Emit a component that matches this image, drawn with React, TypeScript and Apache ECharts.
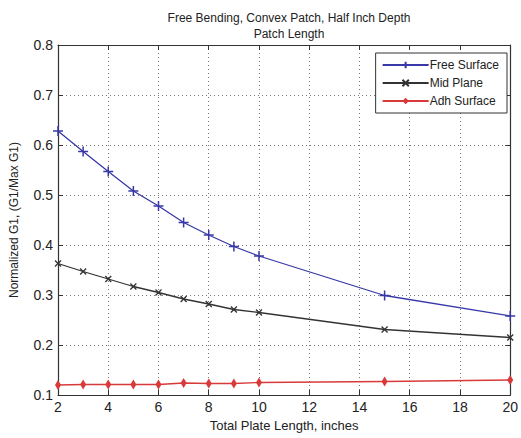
import React, { useEffect, useRef } from "react";
import * as echarts from "echarts";

const xValues = [2, 3, 4, 5, 6, 7, 8, 9, 10, 15, 20];
const freeSurface = [0.628, 0.587, 0.547, 0.508, 0.478, 0.445, 0.42, 0.397, 0.378, 0.299, 0.258];
const midPlane = [0.363, 0.347, 0.332, 0.317, 0.305, 0.292, 0.282, 0.271, 0.265, 0.231, 0.215];
const adhSurface = [0.12, 0.121, 0.121, 0.121, 0.121, 0.124, 0.123, 0.123, 0.125, 0.127, 0.13];
const titleLines = ["Free Bending, Convex Patch, Half Inch Depth", "Patch Length"];
const xName = "Total Plate Length, inches";
const yName = "Normalized G1, (G1/Max G1)";

const FONT = "Liberation Sans, Arial, sans-serif";
const PLUS = "path://M0,-1L0,1M-1,0L1,0";
const CROSS = "path://M-1,-1L1,1M-1,1L1,-1";

export default function App() {
  const ref = useRef<HTMLDivElement>(null);
  useEffect(() => {
    if (!ref.current) return;
    const chart = echarts.init(ref.current, undefined, { renderer: "svg" });
    const pair = (ys: number[]) => xValues.map((x, i) => [x, ys[i]]);
    const axisLine = { show: true, lineStyle: { color: "#333", width: 1.2 } };
    const tick = { show: true, inside: true, length: 5, lineStyle: { color: "#333" } };
    chart.setOption({
      animation: false,
      backgroundColor: "#fff",
      title: {
        text: titleLines.join("\n"),
        left: 284,
        top: 5,
        textAlign: "center",
        textStyle: { fontFamily: FONT, fontSize: 12, fontWeight: "normal", color: "#222", lineHeight: 16 },
      },
      grid: { left: 58, right: 10, top: 45, bottom: 43 },
      legend: {
        orient: "vertical",
        right: 14,
        top: 53,
        backgroundColor: "#fff",
        borderColor: "#333",
        borderWidth: 1,
        padding: [6, 8, 6, 6],
        itemGap: 6,
        itemWidth: 46,
        itemHeight: 8,
        textStyle: { fontFamily: FONT, fontSize: 12, color: "#222", padding: [0, 0, 0, -4] },
        data: ["Free Surface", "Mid Plane", "Adh Surface"],
      },
      xAxis: [
        {
          type: "value",
          min: 2,
          max: 20,
          interval: 2,
          name: xName,
          nameLocation: "middle",
          nameGap: 23,
          nameTextStyle: { fontFamily: FONT, fontSize: 13, color: "#222" },
          axisLine,
          axisTick: tick,
          axisLabel: { fontFamily: FONT, fontSize: 14, color: "#222", margin: 5 },
          splitLine: { show: true, lineStyle: { type: [1, 3], color: "#777", width: 1 } },
        },
        {
          type: "value",
          position: "top",
          min: 2,
          max: 20,
          interval: 2,
          axisLine,
          axisTick: tick,
          axisLabel: { show: false },
          splitLine: { show: false },
        },
      ],
      yAxis: [
        {
          type: "value",
          min: 0.1,
          max: 0.8,
          interval: 0.1,
          name: yName,
          nameLocation: "middle",
          nameGap: 38,
          nameTextStyle: { fontFamily: FONT, fontSize: 12, color: "#222" },
          axisLine,
          axisTick: tick,
          axisLabel: { fontFamily: FONT, fontSize: 14, color: "#222", margin: 5, formatter: (v: number) => v.toFixed(1) },
          splitLine: { show: true, lineStyle: { type: [1, 3], color: "#777", width: 1 } },
        },
        {
          type: "value",
          position: "right",
          min: 0.1,
          max: 0.8,
          interval: 0.1,
          axisLine,
          axisTick: tick,
          axisLabel: { show: false },
          splitLine: { show: false },
        },
      ],
      series: [
        {
          name: "Free Surface",
          type: "line",
          data: pair(freeSurface),
          symbol: PLUS,
          symbolSize: 10,
          lineStyle: { color: "#3838a8", width: 1.3 },
          itemStyle: { color: "#3838a8", borderColor: "#3838a8", borderWidth: 1.5 },
        },
        {
          name: "Mid Plane",
          type: "line",
          data: pair(midPlane),
          symbol: CROSS,
          symbolSize: 6,
          lineStyle: { color: "#333", width: 1.3 },
          itemStyle: { color: "#333", borderColor: "#333", borderWidth: 1.3 },
        },
        {
          name: "Adh Surface",
          type: "line",
          data: pair(adhSurface),
          symbol: "diamond",
          symbolSize: [6, 10],
          lineStyle: { color: "#d83a3a", width: 1.3 },
          itemStyle: { color: "#d83a3a", borderColor: "#d83a3a", borderWidth: 0 },
        },
      ],
    });
    return () => chart.dispose();
  }, []);
  return <div ref={ref} style={{ position: "absolute", left: 0, top: 0, width: 521, height: 438 }} />;
}
